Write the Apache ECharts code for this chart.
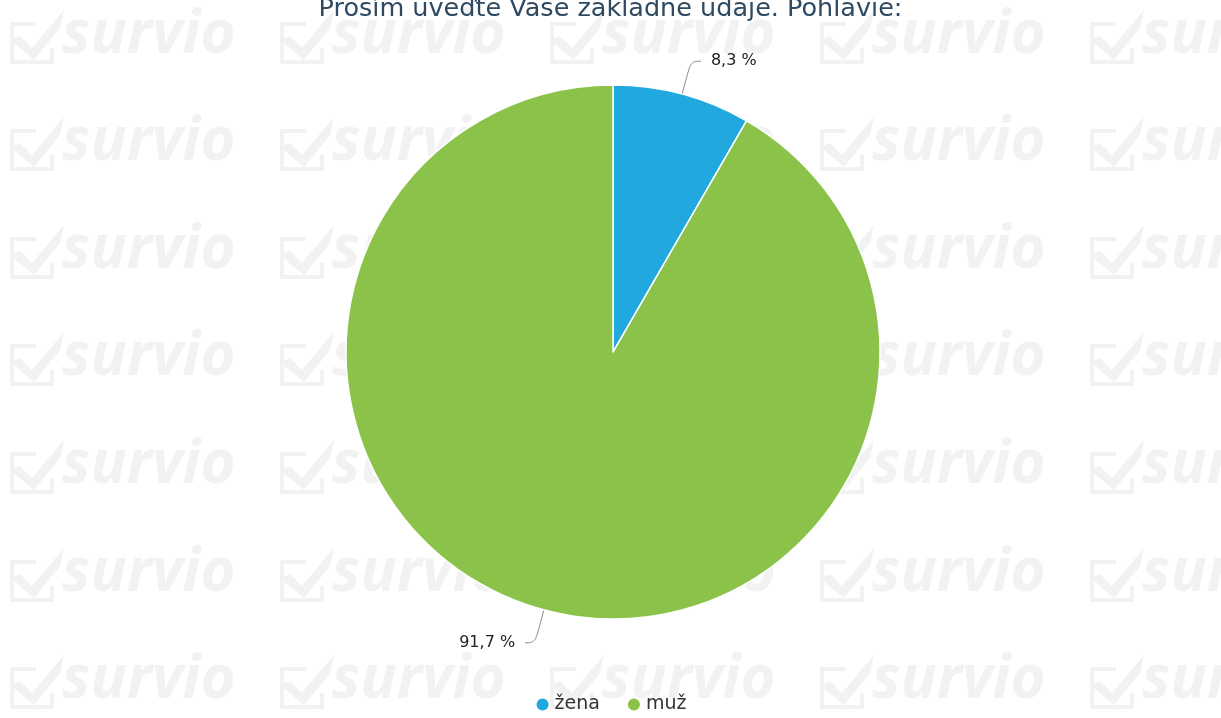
<!DOCTYPE html>
<html>
<head>
<meta charset="utf-8">
<script src="https://cdn.jsdelivr.net/npm/echarts@6/dist/echarts.min.js"></script>
<style>
  html, body { margin: 0; padding: 0; background: #fff; }
  #main { width: 1221px; height: 718px; }
</style>
</head>
<body>
<div id="main"></div>
<script>
    // data
    var titleText = 'Prosím uveďte Vaše základné údaje. Pohlavie:';
    var categories = ['žena', 'muž'];
    var counts = [1, 11];
    var colors = ['#21a8df', '#8bc34a'];

    var myChart = echarts.init(document.getElementById('main'));

    // watermark "survio" tiles in the background
    var marks = [];
    var colX = [8, 278, 548, 818, 1088];
    var rowY = [24, 131, 239, 346, 454, 562, 669];
    for (var r = 0; r < rowY.length; r++) {
        for (var c = 0; c < colX.length; c++) {
            marks.push({
                type: 'group',
                x: colX[c],
                y: rowY[r],
                silent: true,
                z: -10,
                children: [
                    {
                        type: 'polyline',
                        shape: { points: [[28, 0], [4, 0], [4, 38], [44, 38], [44, 24]] },
                        style: { stroke: '#f2f2f2', lineWidth: 4, fill: null }
                    },
                    {
                        type: 'polygon',
                        shape: { points: [[2, 16], [12, 12], [24, 24], [56, -14], [52, 4], [26, 36]] },
                        style: { fill: '#f2f2f2' }
                    },
                    {
                        type: 'text',
                        x: 54,
                        y: -18,
                        style: {
                            text: 'survio',
                            fill: '#f2f2f2',
                            font: 'italic bold 60px "Open Sans"'
                        }
                    }
                ]
            });
        }
    }

    var option = {
        backgroundColor: '#ffffff',
        title: {
            text: titleText,
            left: 'center',
            top: -9,
            textStyle: {
                fontFamily: 'DejaVu Sans',
                fontWeight: 'normal',
                fontSize: 25.5,
                color: '#2e4a62'
            }
        },
        legend: {
            bottom: -1,
            left: 'center',
            icon: 'circle',
            itemWidth: 14,
            itemHeight: 14,
            itemGap: 26,
            textStyle: {
                fontFamily: 'DejaVu Sans',
                fontSize: 19,
                color: '#333'
            },
            data: categories
        },
        graphic: marks,
        series: [
            {
                type: 'pie',
                center: [613, 352],
                radius: 267,
                startAngle: 90,
                clockwise: true,
                animation: false,
                itemStyle: {
                    borderColor: '#ffffff',
                    borderWidth: 1.5
                },
                label: {
                    fontFamily: 'DejaVu Sans',
                    fontSize: 16,
                    color: '#222',
                    distanceToLabelLine: 10,
                    formatter: function (p) {
                        return p.percent.toFixed(1).replace('.', ',') + ' %';
                    }
                },
                labelLine: {
                    length: 34,
                    length2: 10,
                    smooth: 0.4,
                    lineStyle: { color: '#888', width: 1 }
                },
                data: categories.map(function (name, i) {
                    return { name: name, value: counts[i], itemStyle: { color: colors[i] } };
                })
            }
        ]
    };

    myChart.setOption(option);
</script>
</body>
</html>
